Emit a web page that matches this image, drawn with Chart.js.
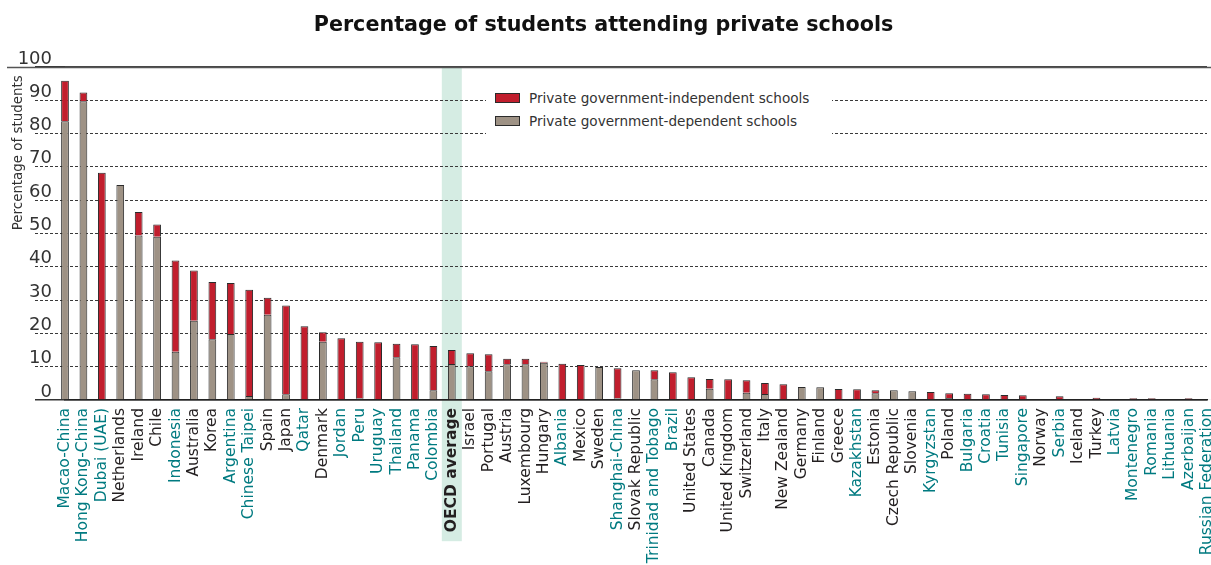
<!DOCTYPE html>
<html><head><meta charset="utf-8">
<script src="https://cdn.jsdelivr.net/npm/chart.js@4"></script>
<style>
html,body{margin:0;padding:0;background:#fff;}
#wrap{position:relative;width:1211px;height:565px;overflow:hidden;}
#legend{position:absolute;left:486px;top:85px;width:346px;height:52px;box-sizing:border-box;padding:1px 0 0 9px;background:#fff;font:13.6px "DejaVu Sans",sans-serif;color:#333;}
.row{display:flex;align-items:center;height:23px;white-space:nowrap;}
.sw{width:23px;height:8px;border:1px solid #2b2b2b;margin-right:9px;}
</style></head><body>
<div id="wrap"><canvas id="c" width="1211" height="565"></canvas><div id="legend"></div></div>
<script>
const categories = ["Macao-China","Hong Kong-China","Dubai (UAE)","Netherlands","Ireland","Chile","Indonesia","Australia","Korea","Argentina","Chinese Taipei","Spain","Japan","Qatar","Denmark","Jordan","Peru","Uruguay","Thailand","Panama","Colombia","OECD average","Israel","Portugal","Austria","Luxembourg","Hungary","Albania","Mexico","Sweden","Shanghai-China","Slovak Republic","Trinidad and Tobago","Brazil","United States","Canada","United Kingdom","Switzerland","Italy","New Zealand","Germany","Finland","Greece","Kazakhstan","Estonia","Czech Republic","Slovenia","Kyrgyzstan","Poland","Bulgaria","Croatia","Tunisia","Singapore","Norway","Serbia","Iceland","Turkey","Latvia","Montenegro","Romania","Lithuania","Azerbaijan","Russian Federation"];
const governmentDependent = [83.7,89.7,0,64.5,49.4,49.0,14.5,23.8,18.2,19.8, 1.2,25.6,1.7,0,17.5,0,0.5,0,12.8,0, 2.9,10.8,10.1,8.6,10.7,10.7,11.2,0,0,9.9, 0.5,8.9,6.2,0,0,3.4,0,2.2,1.8,0, 3.9,3.8,0,0,2.0,2.9,2.6,0,0.6,0, 0,0,0,0,0,0,0,0.3,0,0, 0,0,0];
const governmentIndependent = [12.1,2.6,68.2,0,7.0,3.7,27.4,15.1,17.2,15.3, 31.9,5.1,26.7,22.1,2.8,18.5,17.0,17.3,4.1,16.7, 13.3,4.2,3.9,5.1,1.7,1.7,0.3,10.9,10.5,0, 9.0,0,2.7,8.3,6.8,2.9,6.2,3.7,3.3,4.7, 0,0,3.3,3.2,0.9,0,0,2.4,1.4,1.9, 1.7,1.5,1.4,0,1.1,0,0.7,0,0.5,0.5, 0,0.5,0.3];
const partnerEconomies = ["Macao-China","Hong Kong-China","Dubai (UAE)","Indonesia","Argentina","Chinese Taipei","Qatar","Jordan","Peru","Uruguay","Thailand","Panama","Colombia","Albania","Shanghai-China","Trinidad and Tobago","Brazil","Kazakhstan","Kyrgyzstan","Bulgaria","Croatia","Tunisia","Singapore","Serbia","Latvia","Montenegro","Romania","Lithuania","Azerbaijan","Russian Federation"];
const averageLabel = "OECD average";
const yTicks = [0,10,20,30,40,50,60,70,80,90,100];

const FONT = '"DejaVu Sans", sans-serif';
const RED = '#c11e2d', GRAY = '#9e9285', EDGE = '#2b2b2b', TEAL = '#007a80', INK = '#231f20';
const LABEL_SIZE = 15.5;

const decor = {
  id: 'decor',
  beforeDraw(chart) {
    const {ctx, chartArea, scales: {x}} = chart;
    const i = categories.indexOf(averageLabel);
    const px = x.getPixelForValue(i);
    ctx.save();
    ctx.font = 'bold ' + LABEL_SIZE + 'px ' + FONT;
    const tw = ctx.measureText(averageLabel).width;
    ctx.fillStyle = '#d5ece3';
    ctx.fillRect(px - 10, chartArea.top, 20, (x.top + 8 + tw + 9) - chartArea.top);
    ctx.restore();
  },
  afterDraw(chart) {
    const {ctx, scales: {y}} = chart;
    const py = Math.round(y.getPixelForValue(100)) + 0.5;
    ctx.save();
    ctx.strokeStyle = '#555';
    ctx.lineWidth = 1.5;
    ctx.beginPath();
    ctx.moveTo(7, py); ctx.lineTo(chart.width, py);
    ctx.stroke();
    ctx.restore();
  }
};

const edgeVal = v => v === 0 || v === 100;

const chart = new Chart(document.getElementById('c'), {
  type: 'bar',
  data: {
    labels: categories,
    datasets: [
      {label: 'Private government-dependent schools', data: governmentDependent, backgroundColor: GRAY, borderColor: EDGE, borderWidth: 1, barPercentage: 0.42, categoryPercentage: 1, clip: false},
      {label: 'Private government-independent schools', data: governmentIndependent, backgroundColor: RED, borderColor: EDGE, borderWidth: 1, barPercentage: 0.42, categoryPercentage: 1, clip: false}
    ]
  },
  options: {
    responsive: false, maintainAspectRatio: false, animation: false,
    layout: {padding: {left: 0, right: 4, top: 0, bottom: 0}},
    plugins: {
      legend: {display: false},
      tooltip: {enabled: false},
      title: {display: true, text: 'Percentage of students attending private schools', color: '#111', font: {family: FONT, size: 20.7, weight: 'bold'}, padding: {top: 13, bottom: 29}}
    },
    scales: {
      x: {
        type: 'category', stacked: true, offset: false,
        grid: {display: false, drawTicks: false},
        border: {display: true, color: '#222', width: 1.5},
        ticks: {
          autoSkip: false, minRotation: 90, maxRotation: 90, padding: 8,
          color: c => partnerEconomies.includes(categories[c.index]) ? TEAL : INK,
          font: c => ({family: FONT, size: LABEL_SIZE, weight: categories[c.index] === averageLabel ? 'bold' : 'normal'})
        },
        afterFit: s => { s.height = 165; s.paddingLeft = 0; s.paddingRight = 0; }
      },
      y: {
        type: 'linear', stacked: true, min: 0, max: 100,
        afterBuildTicks: s => { s.ticks = yTicks.map(v => ({value: v})); },
        ticks: {color: '#333', font: {family: FONT, size: 18}, padding: -17, labelOffset: -8},
        grid: {
          color: c => edgeVal(c.tick.value) ? '#444' : '#3a3a3a',
          lineWidth: c => edgeVal(c.tick.value) ? 1.5 : 1,
          drawTicks: true, tickLength: 30,
          tickColor: c => edgeVal(c.tick.value) ? '#333' : '#3a3a3a',
          tickWidth: c => edgeVal(c.tick.value) ? 1.5 : 1,
          tickBorderDash: c => edgeVal(c.tick.value) ? [] : [3, 2]
        },
        border: {display: false, dash: c => (c.tick && edgeVal(c.tick.value)) ? [] : [3, 2]},
        title: {display: true, text: 'Percentage of students  ', align: 'end', color: '#333', font: {family: FONT, size: 13.4}, padding: {top: 10, bottom: 0}},
        afterFit: s => { s.width = 65; }
      }
    }
  },
  plugins: [decor]
});

const lg = document.getElementById('legend');
chart.data.datasets.slice().reverse().forEach(ds => {
  const row = document.createElement('div'); row.className = 'row';
  const sw = document.createElement('span'); sw.className = 'sw'; sw.style.background = ds.backgroundColor;
  const t = document.createElement('span'); t.textContent = ds.label;
  row.appendChild(sw); row.appendChild(t); lg.appendChild(row);
});
</script>
</body></html>
